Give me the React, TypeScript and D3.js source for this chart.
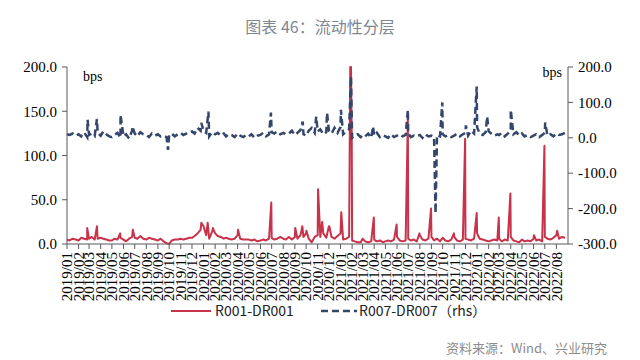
import React from 'react';
import * as d3 from 'd3';

// month tick labels on the x axis
const monthLabels = [
  '2019/01', '2019/02', '2019/03', '2019/04', '2019/05', '2019/06', '2019/07', '2019/08', '2019/09', '2019/10', '2019/11', '2019/12',
  '2020/01', '2020/02', '2020/03', '2020/04', '2020/05', '2020/06', '2020/07', '2020/08', '2020/09', '2020/10', '2020/11', '2020/12',
  '2021/01', '2021/02', '2021/03', '2021/04', '2021/05', '2021/06', '2021/07', '2021/08', '2021/09', '2021/10', '2021/11', '2021/12',
  '2022/01', '2022/02', '2022/03', '2022/04', '2022/05', '2022/06', '2022/07', '2022/08',
];

const leftTicks = [0, 50, 100, 150, 200];
const rightTicks = [-300, -200, -100, 0, 100, 200];

// days of month at which the base readings are taken
const sampleDays = [1, 8, 16, 24];

// R001-DR001, base level, one row per month (bps)
const r001Base = [
  [5, 4, 6, 5], [4, 7, 6, 5], [6, 8, 5, 6], [7, 6, 5, 4], [4, 6, 5, 7], [5, 3, 6, 8],
  [7, 6, 9, 6], [5, 7, 6, 5], [4, 6, 3, 1], [0, 4, 5, 5], [6, 5, 6, 7], [7, 9, 12, 16],
  [20, 10, 6, 14], [12, 9, 8, 6], [7, 6, 5, 6], [10, 6, 5, 5], [5, 4, 5, 3], [4, 5, 4, 6],
  [7, 5, 6, 8], [6, 5, 8, 5], [8, 6, 10, 8], [12, 6, 2, 8], [10, 8, 12, 7], [20, 8, 6, 9],
  [12, 5, 6, 8], [4, 3, 2, 2], [6, 3, 2, 3], [5, 3, 4, 2], [3, 4, 3, 5], [8, 4, 3, 4],
  [6, 4, 5, 3], [10, 5, 4, 6], [8, 4, 6, 3], [7, 4, 3, 5], [8, 4, 3, 5], [6, 5, 4, 6],
  [12, 6, 5, 4], [3, 4, 5, 4], [6, 3, 5, 4], [8, 4, 3, 2], [5, 3, 4, 3], [6, 4, 5, 3],
  [8, 6, 5, 7], [10, 6, 8, 7],
];

// R001-DR001, single-day spikes
const r001Spikes: [string, number][] = [
  ['2019-02-24', 18], ['2019-03-22', 20], ['2019-05-23', 12], ['2019-06-26', 16],
  ['2019-12-26', 24], ['2020-01-12', 24], ['2020-01-26', 18], ['2020-04-02', 16],
  ['2020-06-30', 47], ['2020-09-02', 18], ['2020-09-21', 20], ['2020-10-02', 15],
  ['2020-11-02', 62], ['2020-11-13', 25], ['2020-12-02', 20], ['2021-01-03', 36],
  ['2021-01-27', 200], ['2021-01-29', 200], ['2021-01-31', 120], ['2021-03-31', 30],
  ['2021-05-31', 22], ['2021-06-30', 141], ['2021-07-31', 12], ['2021-08-31', 40],
  ['2021-10-31', 12], ['2021-11-30', 119], ['2021-12-31', 35], ['2022-02-28', 30],
  ['2022-03-31', 57], ['2022-06-02', 10], ['2022-06-30', 111], ['2022-08-03', 15],
];

// R007-DR007 (rhs), base level, one row per month (bps)
const r007Base = [
  [10, 8, 12, 6], [10, 4, 15, 2], [8, 12, 5, 14], [6, 18, 10, 4], [2, 8, 14, 0], [4, 10, -2, 20],
  [12, 4, 16, 10], [8, 2, 12, 6], [10, 4, 6, 2], [8, 12, 4, 10], [14, 8, 12, 16], [18, 12, 28, 20],
  [20, 14, 4, 16], [10, 14, 6, 12], [4, 10, 8, 2], [12, 6, 2, 8], [4, 10, 0, 6], [8, 14, 4, 10],
  [16, 12, 18, 10], [14, 10, 12, 20], [8, 14, 22, 10], [6, 20, 28, 14], [18, 24, 10, 16], [20, 12, 28, 14],
  [30, 10, 18, 24], [0, 6, 10, 2], [8, 4, 12, 0], [6, 14, 2, 8], [4, 0, 10, 2], [6, 10, 4, 8],
  [12, 2, 6, 4], [8, 0, 10, 4], [6, 2, 8, 4], [10, 4, 8, 2], [6, 12, 4, 10], [14, 6, 20, 12],
  [30, 12, 8, 16], [18, 12, 6, 10], [8, 14, 4, 12], [20, 10, 16, 6], [12, 4, 8, 2], [6, 10, 2, 8],
  [14, 6, 10, 4], [12, 8, 10, 14],
];

// R007-DR007 (rhs), single-day spikes
const r007Spikes: [string, number][] = [
  ['2019-02-25', 51], ['2019-03-22', 53], ['2019-05-24', 65], ['2019-06-25', 32],
  ['2019-09-28', -34], ['2019-12-26', 42], ['2020-01-14', 74], ['2020-06-29', 71],
  ['2020-09-22', 46], ['2020-10-28', 60], ['2020-11-26', 71], ['2021-01-02', 79],
  ['2021-01-29', 173], ['2021-03-29', 32], ['2021-06-30', 79], ['2021-09-12', -213],
  ['2021-09-30', 100], ['2021-12-02', 35], ['2021-12-31', 145], ['2022-01-28', 60],
  ['2022-04-01', 79], ['2022-07-02', 43],
];

const RED = '#C8324A';
const NAVY = '#34466B';
const SERIF = '"Liberation Serif", "Times New Roman", serif';
const CJK = '"Noto Sans CJK SC", "Noto Sans", sans-serif';

interface Pt { date: Date; value: number; }

const parseDay = d3.timeParse('%Y-%m-%d');

function buildSeries(base: number[][], spikes: [string, number][]): Pt[] {
  const pts: Pt[] = [];
  base.forEach((vals, m) => {
    vals.forEach((v, i) => pts.push({ date: new Date(2019, m, sampleDays[i]), value: v }));
  });
  spikes.forEach(([d, v]) => pts.push({ date: parseDay(d) as Date, value: v }));
  return pts.sort((a, b) => +a.date - +b.date);
}

const App: React.FC = () => {
  const left = 67, right = 568, top = 67, bottom = 244;

  const x = d3.scaleTime()
    .domain([new Date(2019, 0, 1), new Date(2022, 8, 1)])
    .range([left, right]);
  const yL = d3.scaleLinear().domain([0, 200]).range([bottom, top]);
  const yR = d3.scaleLinear().domain([-300, 200]).range([bottom, top]);

  const red = buildSeries(r001Base, r001Spikes);
  const navy = buildSeries(r007Base, r007Spikes);

  const redLine = d3.line<Pt>().x(d => x(d.date)).y(d => yL(Math.min(d.value, 200)));
  const navyLine = d3.line<Pt>().x(d => x(d.date)).y(d => yR(d.value));

  const months = d3.timeMonth.range(new Date(2019, 0, 1), new Date(2022, 8, 1));

  return (
    <svg width={640} height={360} style={{ position: 'absolute', left: 0, top: 0, background: '#fff' }}>
      <rect width={640} height={360} fill="#fff" />

      {/* title */}
      <text x={320} y={33} textAnchor="middle" fontFamily={CJK} fontSize={16} fill="#7e8692">
        图表 46：流动性分层
      </text>

      {/* series */}
      <path d={redLine(red) || ''} fill="none" stroke={RED} strokeWidth={2} strokeLinejoin="round" />
      <path d={navyLine(navy) || ''} fill="none" stroke={NAVY} strokeWidth={2.5} strokeDasharray="7,4" />

      {/* left axis */}
      <line x1={left} x2={left} y1={top} y2={bottom} stroke="#595959" strokeWidth={1} />
      {leftTicks.map(t => (
        <g key={'l' + t}>
          <line x1={left - 5} x2={left} y1={yL(t)} y2={yL(t)} stroke="#595959" />
          <text x={57} y={yL(t)} dy="0.35em" textAnchor="end" fontFamily={SERIF} fontSize={15} fill="#000">
            {t.toFixed(1)}
          </text>
        </g>
      ))}
      <text x={83} y={81} fontFamily={SERIF} fontSize={14} fill="#000">bps</text>

      {/* right axis */}
      <line x1={right} x2={right} y1={top} y2={bottom} stroke="#595959" strokeWidth={1} />
      {rightTicks.map(t => (
        <g key={'r' + t}>
          <line x1={right} x2={right + 5} y1={yR(t)} y2={yR(t)} stroke="#595959" />
          <text x={578} y={yR(t)} dy="0.35em" textAnchor="start" fontFamily={SERIF} fontSize={15} fill="#000">
            {t.toFixed(1)}
          </text>
        </g>
      ))}
      <text x={562} y={77} textAnchor="end" fontFamily={SERIF} fontSize={14} fill="#000">bps</text>

      {/* x axis */}
      <line x1={left} x2={right} y1={bottom} y2={bottom} stroke="#595959" strokeWidth={1} />
      {months.map((m, i) => (
        <g key={'m' + i}>
          <line x1={x(m)} x2={x(m)} y1={bottom} y2={bottom + 5} stroke="#595959" />
          <text
            transform={`translate(${x(m)},${bottom + 8}) rotate(-90)`}
            dy="0.35em"
            textAnchor="end"
            fontFamily={SERIF}
            fontSize={15}
            fill="#000"
          >
            {monthLabels[i]}
          </text>
        </g>
      ))}

      {/* legend */}
      <line x1={171} x2={211} y1={311} y2={311} stroke={RED} strokeWidth={2} />
      <text x={215} y={311} dy="0.35em" fontFamily={CJK} fontSize={14} fill="#222">R001-DR001</text>
      <line x1={321} x2={357} y1={311} y2={311} stroke={NAVY} strokeWidth={2.5} strokeDasharray="7,4" />
      <text x={359} y={311} dy="0.35em" fontFamily={CJK} fontSize={14} fill="#222">R007-DR007（rhs）</text>

      {/* source */}
      <text x={607} y={353} textAnchor="end" fontFamily={CJK} fontSize={13} fill="#8c8c8c">
        资料来源：Wind、兴业研究
      </text>
    </svg>
  );
};

export default App;
